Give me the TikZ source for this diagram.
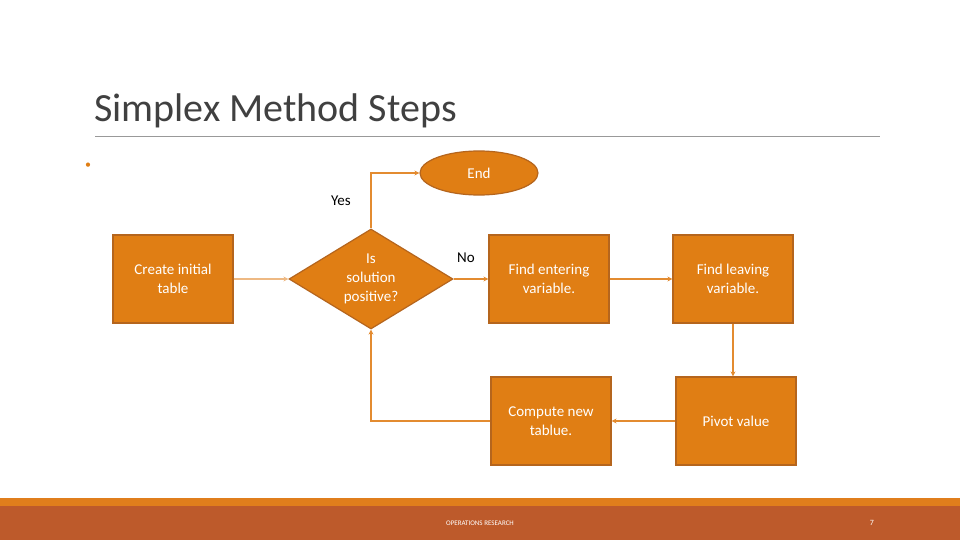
\documentclass[tikz,border=0pt]{standalone}
\usepackage{fontspec}
\setmainfont{Carlito}
\usetikzlibrary{shapes.geometric,arrows.meta}
\definecolor{boxfill}{HTML}{E07E14}
\definecolor{boxedge}{HTML}{B5651D}
\definecolor{lineor}{HTML}{E38B30}
\definecolor{barred}{HTML}{BD5A2B}
\definecolor{barorange}{HTML}{E07E1C}
\begin{document}
\begin{tikzpicture}[x=1pt,y=-1pt,
  stepbox/.style={draw=boxedge,line width=1.2pt,fill=boxfill,text=white,minimum width=120pt,minimum height=88pt,align=center,font=\fontsize{15}{19}\selectfont,inner sep=2pt},
  conn/.style={draw=lineor,line width=1.3pt,-{Stealth[length=5pt,width=5pt]}},
  lbl/.style={font=\fontsize{15}{18}\selectfont,text=black}]
\useasboundingbox (0,0) rectangle (960,540);
\fill[white] (0,0) rectangle (960,540);
\node[anchor=base west,text=black!75,font=\fontsize{40}{44}\selectfont,inner sep=0] (title) at (94,122) {Simplex Method Steps};
\draw[black!40,line width=0.6pt] (95,136) -- (880,136);
\node[text=boxfill,font=\fontsize{12}{12}\selectfont,inner sep=0] (bul) at (88,166) {•};
\node[ellipse,draw=boxedge,line width=1.2pt,fill=boxfill,text=white,minimum width=118pt,minimum height=44pt,font=\fontsize{15}{18}\selectfont] (end) at (479,173) {End};
\node[stepbox] (create) at (173,279) {Create initial\\table};
\node[diamond,aspect=1.65,draw=boxedge,line width=1.2pt,fill=boxfill,text=white,minimum width=164pt,minimum height=100pt,align=center,font=\fontsize{15}{19}\selectfont,inner sep=0] (dec) at (371,279) {Is\\solution\\positive?};
\node[stepbox] (enter) at (549,279) {Find entering\\variable.};
\node[stepbox] (leave) at (733,279) {Find leaving\\variable.};
\node[stepbox] (comp) at (551,421) {Compute new\\tablue.};
\node[stepbox] (pivot) at (736,421) {Pivot value};
\node[lbl] (yes) at (341,201) {Yes};
\node[lbl] (no) at (466,258) {No};
\draw[conn,draw=lineor!60] (create) -- (dec);
\draw[conn] (dec.north) |- (end.west);
\draw[conn] (dec.east) -- (enter.west);
\draw[conn] (enter) -- (leave);
\draw[conn] (leave.south) -- (pivot.north -| leave.south);
\draw[conn] (pivot) -- (comp);
\draw[conn] (comp.west) -| (dec.south);
\fill[barorange] (0,498) rectangle (960,506);
\fill[barred] (0,506) rectangle (960,540);
\node[text=white,font=\fontsize{7}{8}\selectfont] (foot) at (480,523) {OPERATIONS RESEARCH};
\node[text=white,font=\fontsize{8}{9}\selectfont] (pg) at (872,523) {7};
\end{tikzpicture}
\end{document}
